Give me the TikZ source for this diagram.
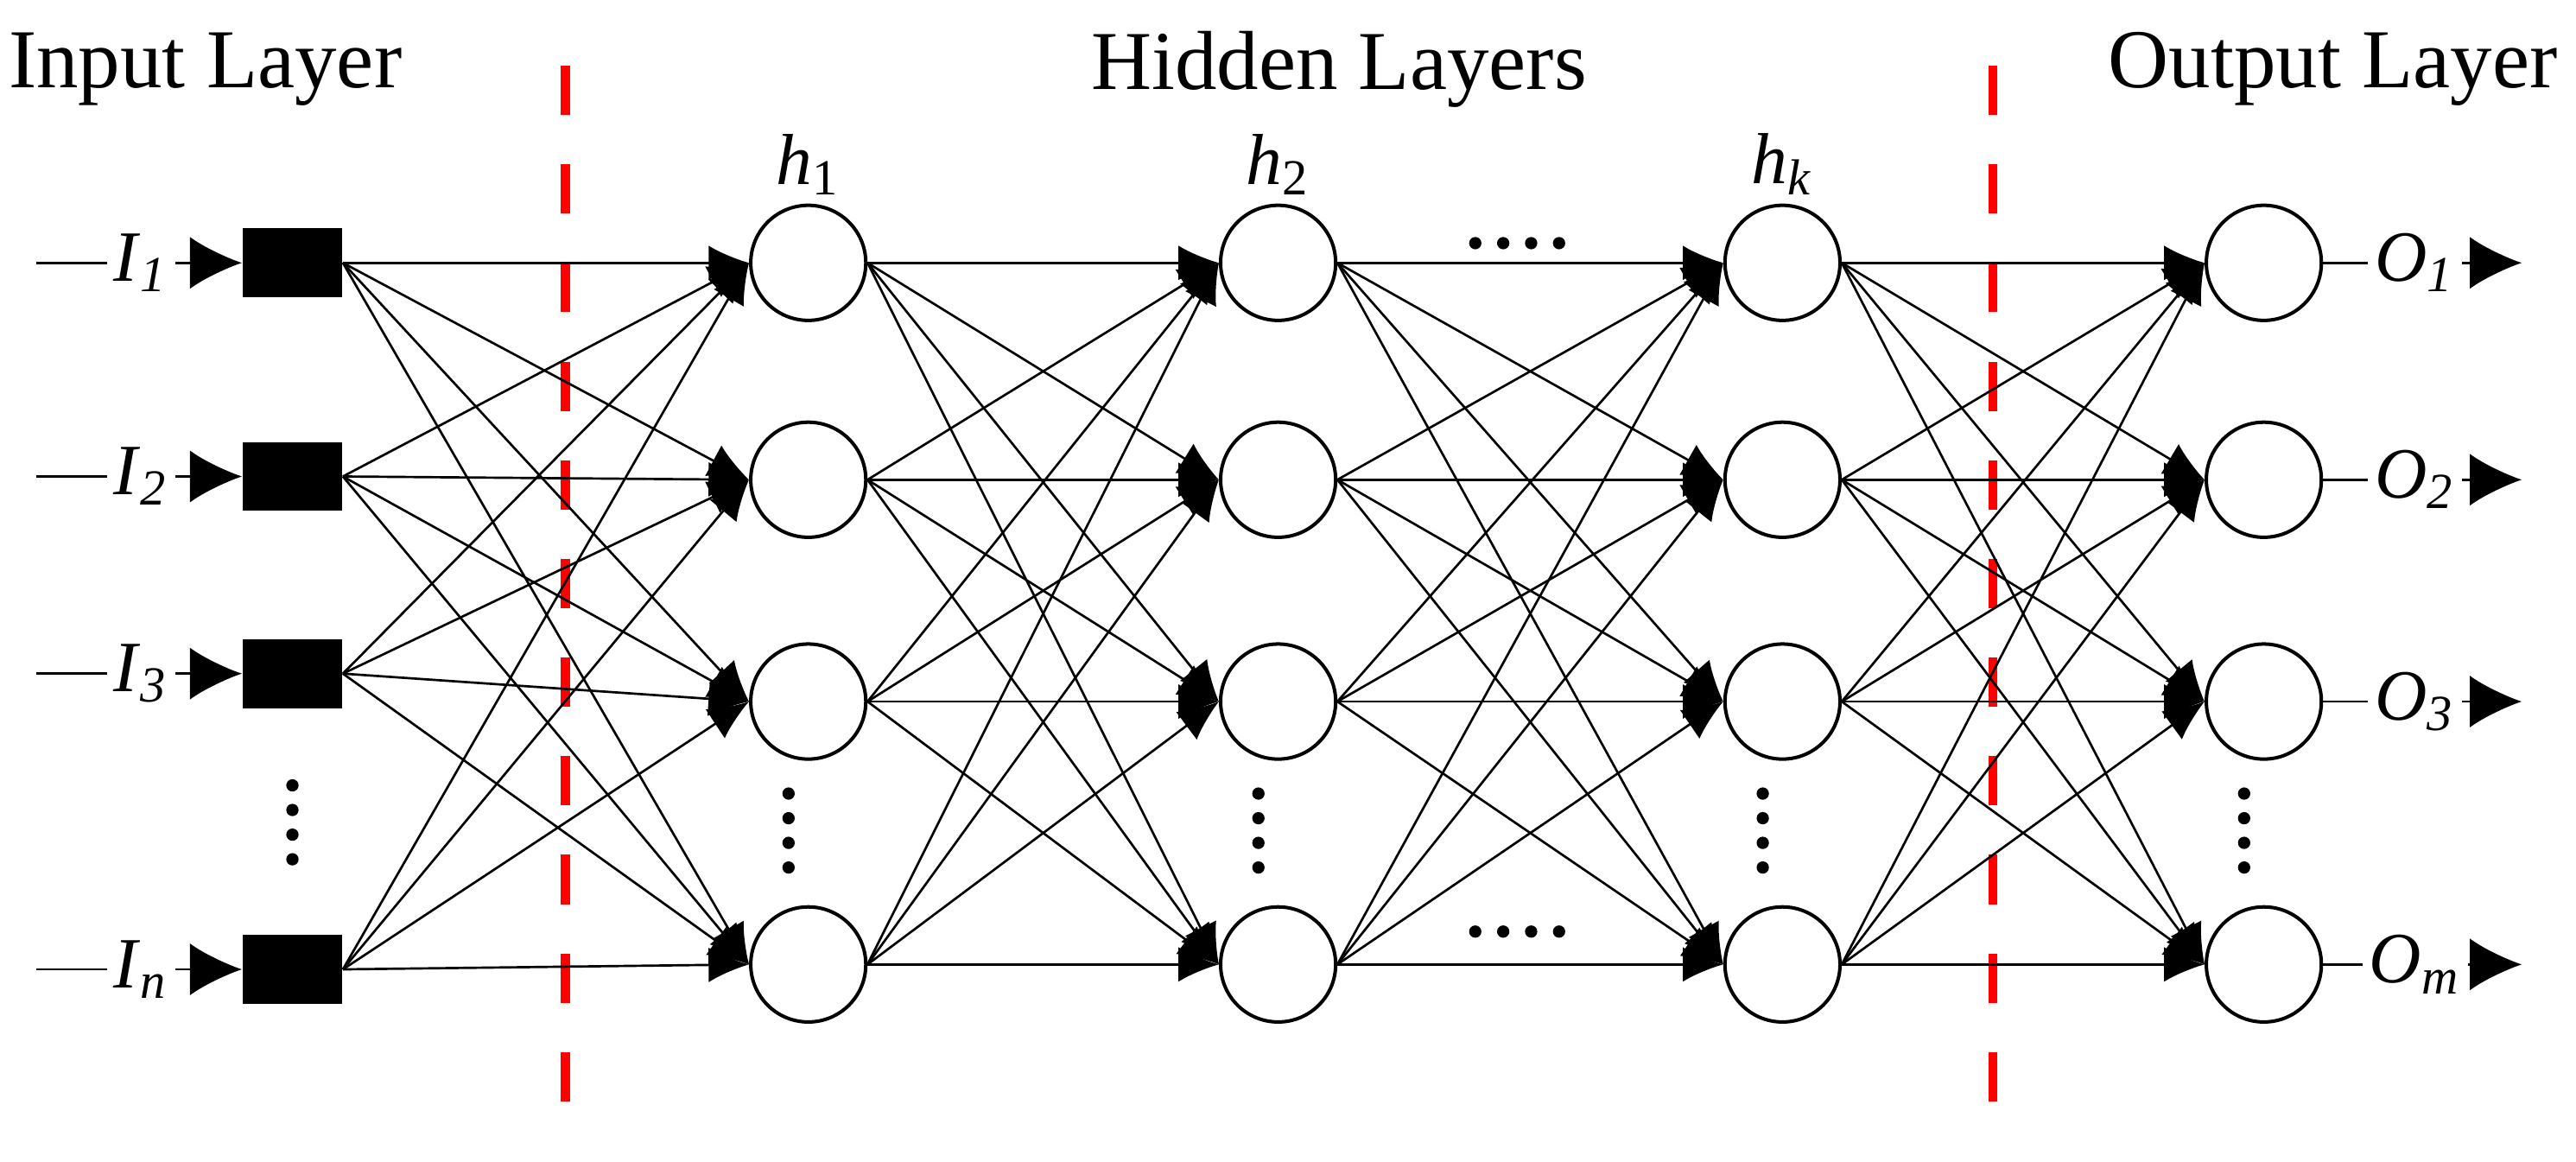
\documentclass[tikz,border=0pt]{standalone}
\usepackage{fontspec}
\setmainfont{Liberation Serif}
\usetikzlibrary{arrows.meta}
\begin{document}
\begin{tikzpicture}[x=0.01cm,y=-0.01cm,
  neu/.style={circle,draw,minimum size=0.7cm,inner sep=0pt,line width=0.6pt},
  sq/.style={rectangle,fill=black,minimum width=0.6cm,minimum height=0.42cm,inner sep=0pt},
  con/.style={line width=0.4pt,-{Latex[length=7pt,width=6pt]}},
  lab/.style={font=\fontsize{12.5}{15}\selectfont,inner sep=1pt},
  big/.style={font=\fontsize{14.5}{18}\selectfont},
  dot/.style={circle,fill=black,minimum size=0.075cm,inner sep=0pt}]
\useasboundingbox (0,0) rectangle (1568,707);
\draw[red,line width=1.6pt,dash pattern=on 0.3cm off 0.3cm] (344,40) -- (344,690);
\draw[red,line width=1.6pt,dash pattern=on 0.3cm off 0.3cm] (1213,40) -- (1213,690);
\node[big] (tin) at (125,42) {Input Layer};
\node[big] (thid) at (815,42) {Hidden Layers};
\node[big] (tout) at (1420,42) {Output Layer};
\node[lab] (th1) at (492,100) {\textit{h}\textsubscript{1}};
\node[lab] (th2) at (778,100) {\textit{h}\textsubscript{2}};
\node[lab] (thk) at (1085,100) {\textit{h}\textsubscript{\textit{k}}};
% inputs
\foreach \i/\y/\t in {1/160,2/290,3/410,4/590}{
}
\foreach \i/\y/\t in {1/160/1,2/290/2,3/410/3,4/590/n}{
  \node[sq] (s\i) at (178,\y) {};
  \node[lab] (I\i) at (86,\y) {\textit{I}\textsubscript{\textit{\t}}};
  \coordinate (a\i) at (22,\y);
  \draw (a\i) -- (I\i.west);
  \draw[-{Latex[length=9pt,width=9pt]}] (I\i.east) -- (s\i.west);
}
\foreach \k/\y in {1/478,2/493,3/508,4/523}{\node[dot] (d0\k) at (178,\y) {};}
% layers
\foreach \L/\x in {A/492,B/778,C/1085,D/1378}{
  \foreach \i/\y in {1/160,2/292,3/427,4/587}{
    \node[neu] (\L\i) at (\x,\y) {};
  }
  \foreach \k/\y in {1/483,2/498,3/513,4/528}{\node[dot] (\L d\k) at (\x-12,\y) {};}
}
\foreach \k/\x in {1/898,2/915,3/932,4/949}{
  \node[dot] (dt\k) at (\x,148) {};
  \node[dot] (db\k) at (\x,567) {};
}
\foreach \i in {1,...,4}{\foreach \j in {1,...,4}{
  \draw[con] (s\i.east) -- (A\j.west);
  \draw[con] (A\i.east) -- (B\j.west);
  \draw[con] (B\i.east) -- (C\j.west);
  \draw[con] (C\i.east) -- (D\j.west);
}}
\foreach \i/\t/\y in {1/1/160,2/2/292,3/3/427,4/m/587}{
  \node[lab] (O\i) at (1470,\y) {\textit{O}\textsubscript{\textit{\t}}};
  \coordinate (e\i) at (1535,\y);
  \draw (D\i.east) -- (O\i.west);
  \draw[-{Latex[length=9pt,width=9pt]}] (O\i.east) -- (e\i);
}
\end{tikzpicture}
\end{document}
